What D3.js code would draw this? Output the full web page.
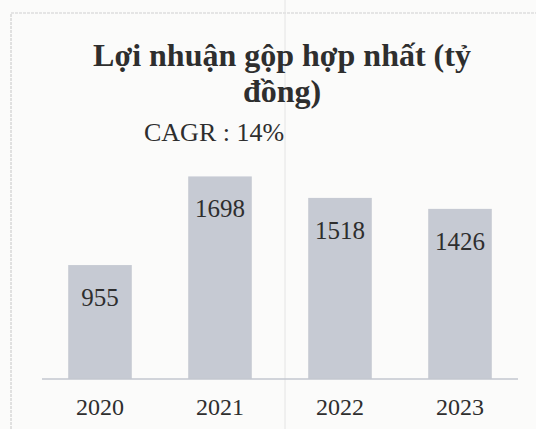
<!DOCTYPE html>
<html>
<head>
  <meta charset="utf-8">
  <script src="https://d3js.org/d3.v7.min.js"></script>
  <style>
    body { margin: 0; background: #fbfbfa; }
    svg text { font-family: "Liberation Serif", "DejaVu Serif", serif; fill: #2e2e2e; }
  </style>
</head>
<body>
<script>
  // chart data
  var years = ["2020", "2021", "2022", "2023"];
  var profit = [955, 1698, 1518, 1426];
  var titleLines = ["Lợi nhuận gộp hợp nhất (tỷ", "đồng)"];
  var cagrText = "CAGR : 14%";

  var width = 536, height = 429;
  var serif = "'Liberation Serif', 'DejaVu Serif', serif";

  var svg = d3.select("body").append("svg")
      .attr("width", width)
      .attr("height", height);

  // faint frame of the scanned chart box
  svg.append("path")
      .attr("d", "M11," + height + "V13H" + width)
      .attr("fill", "none")
      .attr("stroke", "#cfcfcf")
      .attr("stroke-width", 1.2)
      .attr("stroke-dasharray", "3,1");
  svg.append("line")
      .attr("x1", 285).attr("x2", 285)
      .attr("y1", 0).attr("y2", height)
      .attr("stroke", "#e4e4e4")
      .attr("stroke-width", 1);

  var x = d3.scaleBand()
      .domain(years)
      .range([40, 520])
      .paddingInner(0.47)
      .paddingOuter(0.235);

  var y = d3.scaleLinear()
      .domain([0, 2000])
      .range([379, 140.4]);

  // title
  svg.selectAll(".title")
      .data(titleLines)
      .enter()
      .append("text")
      .attr("class", "title")
      .attr("x", 282)
      .attr("y", function (d, i) { return 66 + i * 36; })
      .attr("text-anchor", "middle")
      .style("font-family", serif)
      .style("font-size", "32px")
      .style("font-weight", "bold")
      .text(function (d) { return d; });

  svg.append("text")
      .attr("x", 144)
      .attr("y", 141)
      .style("font-family", serif)
      .style("font-size", "26px")
      .text(cagrText);

  // bars
  svg.selectAll(".bar")
      .data(profit)
      .enter()
      .append("rect")
      .attr("class", "bar")
      .attr("x", function (d, i) { return x(years[i]); })
      .attr("y", function (d) { return y(d); })
      .attr("width", x.bandwidth())
      .attr("height", function (d) { return y(0) - y(d); })
      .attr("fill", "#c6cad3");

  // value labels inside bars
  svg.selectAll(".val")
      .data(profit)
      .enter()
      .append("text")
      .attr("class", "val")
      .attr("x", function (d, i) { return x(years[i]) + x.bandwidth() / 2; })
      .attr("y", function (d) { return y(d) + 41; })
      .attr("text-anchor", "middle")
      .style("font-family", serif)
      .style("font-size", "25px")
      .text(function (d) { return d; });

  // x axis
  var axis = svg.append("g")
      .attr("transform", "translate(0," + y(0) + ")")
      .attr("font-family", serif)
      .call(d3.axisBottom(x).tickSize(0).tickPadding(0));
  axis.select(".domain")
      .attr("d", "M42,0H518")
      .attr("stroke", "#c3c7cf")
      .attr("stroke-width", 1.5);
  axis.selectAll("text")
      .attr("y", 36)
      .attr("dy", 0)
      .style("font-size", "24px")
      .style("font-family", serif)
      .style("fill", "#2e2e2e");
</script>
</body>
</html>
